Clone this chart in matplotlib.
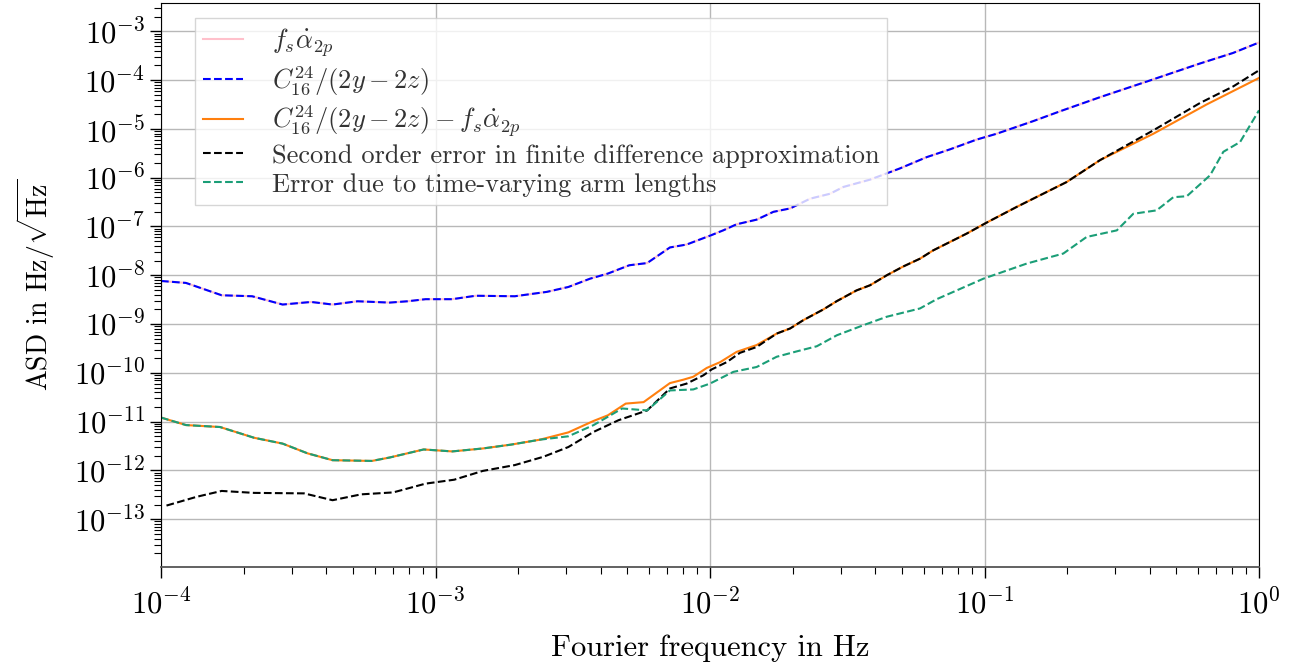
import matplotlib
matplotlib.use('Agg')
import matplotlib.pyplot as plt
import numpy as np
from matplotlib.ticker import LogLocator, NullFormatter

# ---- data (log10 of frequency in Hz, log10 of ASD) ----
c16_logf = [-4.0, -3.909, -3.779, -3.668, -3.557, -3.453, -3.375, -3.284, -3.167, -3.102,
            -3.036, -2.939, -2.854, -2.711, -2.594, -2.516, -2.437, -2.372, -2.294, -2.229,
            -2.146, -2.085, -1.996, -1.952, -1.903, -1.830, -1.769, -1.708, -1.635, -1.563,
            -1.514, -1.417, -1.308, -1.211, -1.126, -1.029, -0.956, -0.822, -0.725, -0.579,
            -0.409, -0.215, -0.095, 0.0]
c16_logasd = [-8.117, -8.157, -8.41, -8.43, -8.60, -8.547, -8.60, -8.533, -8.56, -8.533,
              -8.49, -8.49, -8.42, -8.43, -8.34, -8.24, -8.07, -7.965, -7.795, -7.75,
              -7.43, -7.37, -7.18, -7.08, -6.955, -6.86, -6.70, -6.63, -6.43, -6.33,
              -6.19, -6.04, -5.81, -5.58, -5.42, -5.22, -5.10, -4.84, -4.64, -4.35,
              -4.03, -3.66, -3.445, -3.23]

# f_s * alpha_dot_2p coincides with the C16 curve in the picture
fsalpha_logf = c16_logf
fsalpha_logasd = c16_logasd

diff_logf = [-4.0, -3.909, -3.785, -3.661, -3.557, -3.466, -3.375, -3.232, -3.167, -3.043,
             -2.939, -2.828, -2.724, -2.620, -2.516, -2.424, -2.372, -2.307, -2.242, -2.146,
             -2.097, -2.061, -2.012, -1.963, -1.903, -1.830, -1.757, -1.708, -1.660, -1.587,
             -1.538, -1.466, -1.417, -1.356, -1.296, -1.235, -1.187, -1.065, -0.992, -0.883,
             -0.701, -0.579, -0.385, -0.191, 0.0]
diff_logasd = [-10.916, -11.07, -11.11, -11.33, -11.45, -11.65, -11.79, -11.805, -11.735, -11.57,
               -11.61, -11.55, -11.47, -11.37, -11.22, -10.985, -10.87, -10.63, -10.60, -10.21,
               -10.14, -10.08, -9.90, -9.78, -9.57, -9.43, -9.195, -9.09, -8.92, -8.70,
               -8.53, -8.31, -8.205, -8.0, -7.82, -7.66, -7.49, -7.146, -6.92, -6.60,
               -6.09, -5.64, -5.10, -4.50, -3.957]

fd_logf = [-3.98, -3.870, -3.779, -3.661, -3.479, -3.375, -3.271, -3.154, -3.036, -2.932,
           -2.828, -2.711, -2.607, -2.516, -2.424, -2.333, -2.229, -2.146, -2.085, -2.024,
           -1.994, -1.939, -1.891, -1.830, -1.757, -1.708, -1.660, -1.587, -1.538, -1.466,
           -1.417, -1.356, -1.296, -1.235, -1.187, -1.065, -0.992, -0.883, -0.701, -0.579,
           -0.385, -0.215, -0.094, 0.0]
fd_logasd = [-12.72, -12.54, -12.42, -12.46, -12.47, -12.61, -12.49, -12.45, -12.27, -12.19,
             -12.01, -11.89, -11.72, -11.52, -11.21, -10.97, -10.77, -10.32, -10.22, -10.05,
             -9.93, -9.78, -9.59, -9.47, -9.195, -9.09, -8.92, -8.70, -8.53, -8.31,
             -8.205, -8.0, -7.82, -7.66, -7.49, -7.146, -6.92, -6.60, -6.09, -5.64,
             -5.03, -4.47, -4.13, -3.80]

arm_logf = [-4.0, -3.909, -3.785, -3.661, -3.557, -3.466, -3.375, -3.232, -3.167, -3.043,
            -2.939, -2.828, -2.724, -2.620, -2.516, -2.424, -2.320, -2.229, -2.146, -2.061,
            -2.0, -1.915, -1.830, -1.757, -1.684, -1.611, -1.538, -1.442, -1.356, -1.235,
            -1.174, -1.004, -0.846, -0.713, -0.628, -0.518, -0.458, -0.373, -0.312, -0.263,
            -0.178, -0.130, -0.069, 0.0]
arm_logasd = [-10.916, -11.07, -11.11, -11.33, -11.45, -11.65, -11.79, -11.805, -11.735, -11.57,
              -11.61, -11.55, -11.47, -11.37, -11.30, -11.07, -10.73, -10.77, -10.36, -10.34,
              -10.22, -9.98, -9.88, -9.67, -9.56, -9.455, -9.23, -9.025, -8.85, -8.68,
              -8.49, -8.07, -7.76, -7.555, -7.215, -7.08, -6.74, -6.67, -6.40, -6.38,
              -5.95, -5.47, -5.27, -4.62]

labels = [r'$f_s\dot{\alpha}_{2p}$',
          r'$C^{24}_{16}/(2y-2z)$',
          r'$C^{24}_{16}/(2y-2z)-f_s\dot{\alpha}_{2p}$',
          'Second order error in finite difference approximation',
          'Error due to time-varying arm lengths']

# ---- style ----
plt.rcParams.update({
    'font.family': 'serif',
    'font.serif': ['cmr10'],
    'mathtext.fontset': 'cm',
    'axes.formatter.use_mathtext': True,
    'axes.unicode_minus': False,
    'font.size': 20,
})

def p10(v):
    return np.power(10.0, np.asarray(v, dtype=float))

fig = plt.figure(figsize=(13.02, 6.68), dpi=100)
ax = fig.add_axes([161 / 1302, 1 - 567 / 668, 1098 / 1302, 564 / 668])

lw = 1.5
ax.loglog(p10(fsalpha_logf), p10(fsalpha_logasd), color='pink', lw=lw, label=labels[0])
ax.loglog(p10(c16_logf), p10(c16_logasd), color='blue', ls='--', lw=lw, label=labels[1])
ax.loglog(p10(diff_logf), p10(diff_logasd), color='#ff7f0e', lw=lw, label=labels[2])
ax.loglog(p10(fd_logf), p10(fd_logasd), color='black', ls='--', lw=lw, label=labels[3])
ax.loglog(p10(arm_logf), p10(arm_logasd), color='#1b9e77', ls='--', lw=lw, label=labels[4])

ax.set_xlim(1e-4, 1)
ax.set_ylim(1.05e-14, 3.8e-3)

ax.yaxis.set_major_locator(LogLocator(base=10, numticks=100))
ax.yaxis.set_minor_locator(LogLocator(base=10, subs=np.arange(2, 10), numticks=200))
ax.yaxis.set_minor_formatter(NullFormatter())
ax.xaxis.set_minor_locator(LogLocator(base=10, subs=np.arange(2, 10), numticks=200))
ax.xaxis.set_minor_formatter(NullFormatter())

ax.tick_params(which='major', length=8, width=1, labelsize=22)
ax.tick_params(which='minor', length=5, width=0.8)
ax.tick_params(axis='x', which='major', pad=8)

ax.grid(True, which='major', color='#b8b8b8', lw=1.0)
ax.set_axisbelow(True)
ax.spines['bottom'].set_color('#555555')
ax.spines['bottom'].set_linewidth(1.3)

ax.set_xlabel('Fourier frequency in Hz', fontsize=22, labelpad=10)
ax.set_ylabel(r'ASD in Hz$/\sqrt{\mathrm{Hz}}$', fontsize=20, labelpad=12)

leg = ax.legend(loc='upper left', bbox_to_anchor=(0.031, 0.973), borderaxespad=0,
                fontsize=19, handlelength=1.5, handletextpad=1.1, labelspacing=0.2,
                borderpad=0.3, framealpha=0.8, edgecolor='#cccccc', fancybox=False)
for t in leg.get_texts():
    t.set_color('#333333')

fig.savefig('out.png', dpi=100)
